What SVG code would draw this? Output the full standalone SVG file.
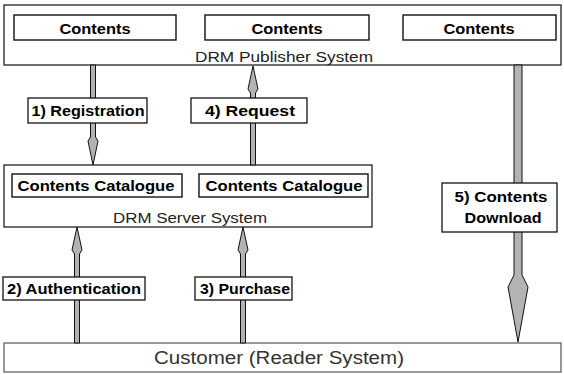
<svg xmlns="http://www.w3.org/2000/svg" width="564" height="374" viewBox="0 0 564 374">
<style>
.sys{fill:#fff;stroke:#222;stroke-width:1.3}
.box{fill:#fff;stroke:#111;stroke-width:1.4}
.lbl{fill:#fff;stroke:#111;stroke-width:1.3}
.arr{fill:#b3b3b3;stroke:#111;stroke-width:1}
.b{font-family:"Liberation Sans",Arial,sans-serif;font-weight:bold;font-size:15px;fill:#000;text-anchor:middle}
.n{font-family:"Liberation Sans",Arial,sans-serif;font-size:14px;fill:#222;text-anchor:middle}
.c{font-family:"Liberation Sans",Arial,sans-serif;font-size:18px;fill:#333;text-anchor:middle}
</style>
<rect width="564" height="374" fill="#fff"/>
<g id="publisher">
<rect class="sys" x="4" y="5" width="557" height="60"/>
<rect class="box" x="14" y="15" width="162" height="25"/>
<text class="b" x="95" y="34" textLength="71" lengthAdjust="spacingAndGlyphs">Contents</text>
<rect class="box" x="205" y="15" width="164" height="25"/>
<text class="b" x="287" y="34" textLength="71" lengthAdjust="spacingAndGlyphs">Contents</text>
<rect class="box" x="403" y="15" width="153" height="25"/>
<text class="b" x="479" y="34" textLength="71" lengthAdjust="spacingAndGlyphs">Contents</text>
<text class="n" x="284" y="62" textLength="178" lengthAdjust="spacingAndGlyphs">DRM Publisher System</text>
</g>
<g id="server">
<rect class="sys" x="4" y="165" width="368" height="62"/>
<rect class="box" x="12" y="174" width="170" height="23"/>
<text class="b" x="96" y="191" textLength="157" lengthAdjust="spacingAndGlyphs">Contents Catalogue</text>
<rect class="box" x="199" y="174" width="169" height="23"/>
<text class="b" x="284" y="191" textLength="157" lengthAdjust="spacingAndGlyphs">Contents Catalogue</text>
<text class="n" x="190" y="223" textLength="154" lengthAdjust="spacingAndGlyphs">DRM Server System</text>
</g>
<g id="customer">
<rect x="4" y="343" width="557" height="29" fill="#fff" stroke="#555" stroke-width="1.2"/>
<text class="c" x="279" y="364" textLength="250" lengthAdjust="spacingAndGlyphs">Customer (Reader System)</text>
</g>
<g id="connectors">
<polygon class="arr" points="90.5,65 95.5,65 95.5,137 98,141 93,165 88,141 90.5,137"/>
<polygon class="arr" points="253,66 258,89 255.5,93 255.5,165 250.5,165 250.5,93 248,89"/>
<polygon class="arr" points="77,227 82,250 79.5,254 79.5,343 74.5,343 74.5,254 72,250"/>
<polygon class="arr" points="243,227 248,250 245.5,254 245.5,343 240.5,343 240.5,254 238,250"/>
<polygon class="arr" points="514,65 522,65 522,275 528,287 518,342 508,287 514,275"/>
<g id="label-registration">
<rect class="lbl" x="28" y="98" width="119" height="25"/>
<text class="b" x="88" y="116" textLength="113" lengthAdjust="spacingAndGlyphs">1) Registration</text>
</g>
<g id="label-request">
<rect class="lbl" x="191" y="98" width="116" height="25"/>
<text class="b" x="250" y="116" textLength="90" lengthAdjust="spacingAndGlyphs">4) Request</text>
</g>
<g id="label-authentication">
<rect class="lbl" x="3" y="277" width="142" height="23"/>
<text class="b" x="74" y="294" textLength="134" lengthAdjust="spacingAndGlyphs">2) Authentication</text>
</g>
<g id="label-purchase">
<rect class="lbl" x="195" y="277" width="97" height="23"/>
<text class="b" x="245" y="294" textLength="90" lengthAdjust="spacingAndGlyphs">3) Purchase</text>
</g>
<g id="label-download">
<rect class="lbl" x="442" y="183" width="115" height="49"/>
<text class="b" x="501" y="202" textLength="93" lengthAdjust="spacingAndGlyphs">5) Contents</text>
<text class="b" x="503" y="223" textLength="77" lengthAdjust="spacingAndGlyphs">Download</text>
</g>
</g>
</svg>
